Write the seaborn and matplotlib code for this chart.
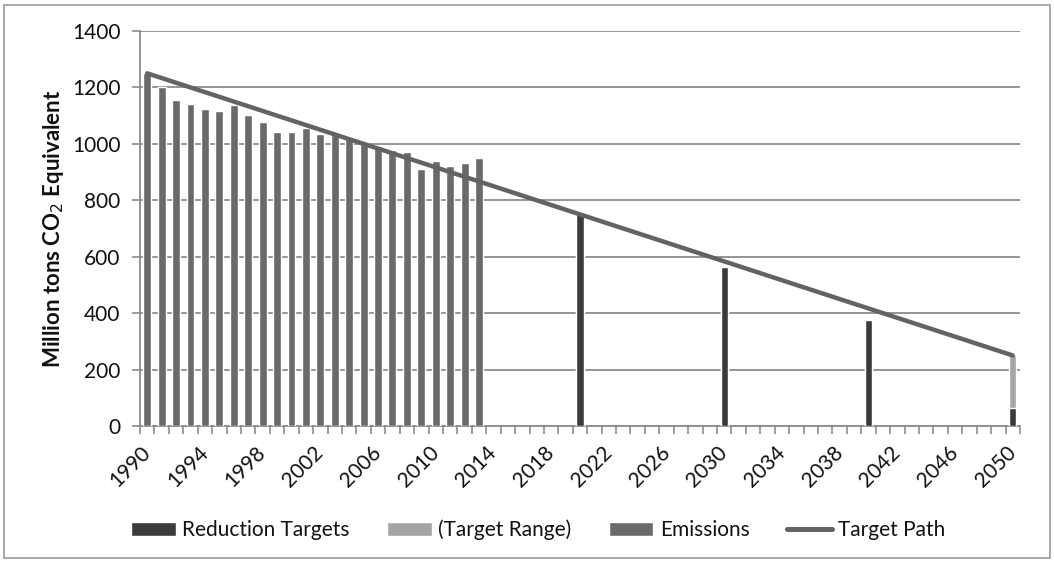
import numpy as np
import pandas as pd
import matplotlib
matplotlib.use("Agg")
import matplotlib.pyplot as plt
import seaborn as sns
from matplotlib.patches import Patch, Rectangle
from matplotlib.lines import Line2D
from matplotlib.ticker import FixedLocator

# ---- data ----
years = list(range(1990, 2051))
emission_years = list(range(1990, 2014))
emissions = [1251, 1202, 1154, 1142, 1124, 1118, 1137, 1103, 1077, 1042,
             1041, 1056, 1036, 1030, 1016, 1002, 992, 978, 972, 910,
             940, 920, 932, 950]
target_years = [2020, 2030, 2040, 2050]
reduction_targets = [750, 563, 375, 63]
target_range = [0, 0, 0, 187]
path_years = [1990, 2050]
path_values = [1250, 250]
tick_labels = [str(y) for y in range(1990, 2051, 4)]

C_EMIS = "#6a6a6a"
C_RED = "#3b3b3b"
C_RANGE = "#a5a5a5"
C_LINE = "#636363"
C_GRID = "#8c8c8c"
C_TEXT = "#111111"

sns.set_theme(style="white")
plt.rcParams["font.family"] = ["Lato", "DejaVu Sans"]

fig = plt.figure(figsize=(10.54, 5.62), dpi=100)
ax = fig.add_axes([140 / 1054, 1 - 426 / 562, 880 / 1054, 395 / 562])

order = [str(y) for y in years]
df_em = pd.DataFrame({"year": [str(y) for y in emission_years], "value": emissions})
df_tot = pd.DataFrame({"year": [str(y) for y in target_years],
                       "value": [a + b for a, b in zip(reduction_targets, target_range)]})
df_red = pd.DataFrame({"year": [str(y) for y in target_years], "value": reduction_targets})

sns.barplot(data=df_em, x="year", y="value", order=order, color=C_EMIS,
            saturation=1, width=0.55, ax=ax, zorder=3)
sns.barplot(data=df_tot, x="year", y="value", order=order, color=C_RANGE,
            saturation=1, width=0.5, ax=ax, zorder=3)
sns.barplot(data=df_red, x="year", y="value", order=order, color=C_RED,
            saturation=1, width=0.5, ax=ax, zorder=4)

path_x = [years.index(y) for y in path_years]
sns.lineplot(x=path_x, y=path_values, color=C_LINE, linewidth=3.2, ax=ax,
             zorder=5, solid_capstyle="round")

ax.set_xlim(-0.5, len(years) - 0.5)
ax.set_ylim(0, 1400)
ax.set_yticks(range(0, 1401, 200))
ax.grid(axis="y", color=C_GRID, linewidth=1.3, zorder=0)
ax.set_axisbelow(True)
for s in ["top", "right"]:
    ax.spines[s].set_visible(False)
for s in ["left", "bottom"]:
    ax.spines[s].set_color(C_GRID)
    ax.spines[s].set_linewidth(1.3)

ax.set_xticks([years.index(int(t)) for t in tick_labels])
ax.set_xticklabels(tick_labels, rotation=45, ha="right", va="center",
                   rotation_mode="anchor", fontsize=15, color=C_TEXT)
ax.xaxis.set_minor_locator(FixedLocator(np.arange(-0.5, len(years), 1.0)))
ax.tick_params(axis="x", which="major", length=0, pad=17)
ax.tick_params(axis="x", which="minor", length=6, width=1.2, color=C_GRID,
               direction="out", bottom=True)
ax.tick_params(axis="y", length=6, width=1.2, color=C_GRID, direction="out",
               left=True, labelsize=15, labelcolor=C_TEXT, pad=8)

ax.set_xlabel("")
ax.set_ylabel("Million tons CO$_2$ Equivalent", fontsize=16, fontweight="bold",
              color=C_TEXT)
ax.yaxis.set_label_coords(-0.084, 0.5)

handles = [Patch(facecolor=C_RED, label="Reduction Targets"),
           Patch(facecolor=C_RANGE, label="(Target Range)"),
           Patch(facecolor=C_EMIS, label="Emissions"),
           Line2D([0], [0], color=C_LINE, linewidth=3.6, label="Target Path")]
fig.legend(handles=handles, loc="center", bbox_to_anchor=(538 / 1054, 1 - 530 / 562),
           ncol=4, frameon=False, fontsize=15, handlelength=2.15,
           handleheight=0.62, columnspacing=1.8, handletextpad=0.3,
           labelcolor=C_TEXT)

fig.patches.append(Rectangle((4 / 1054, 4 / 562), 1046 / 1054, 553 / 562,
                             transform=fig.transFigure, fill=False,
                             edgecolor="#9a9a9a", linewidth=1.2))

fig.savefig("out.png", dpi=100)
